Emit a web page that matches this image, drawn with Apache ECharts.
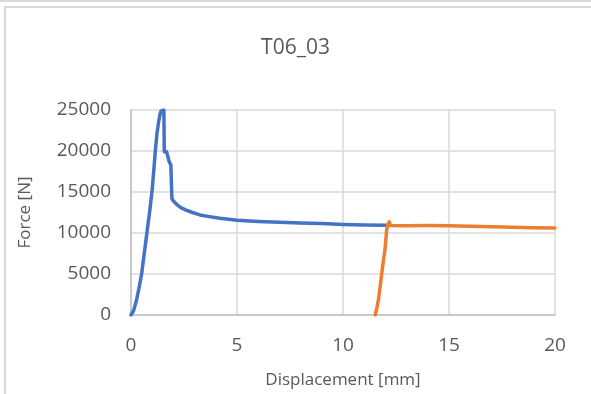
<!DOCTYPE html>
<html>
<head>
<meta charset="utf-8">
<script src="https://cdn.jsdelivr.net/npm/echarts@6/dist/echarts.min.js"></script>
<style>
  html, body { margin: 0; padding: 0; background: #ffffff; }
  #chart { width: 591px; height: 394px; }
</style>
</head>
<body>
<div id="chart"></div>
<script>
// Test T06_03: force versus displacement, two loading runs
const run1Displacement = [0, 0.12, 0.25, 0.38, 0.5, 0.62, 0.75, 0.88, 1.0, 1.08, 1.15, 1.22, 1.3, 1.37, 1.42, 1.48, 1.55, 1.57, 1.62, 1.68, 1.74, 1.8, 1.88, 1.92, 1.93, 2.0, 2.15, 2.35, 2.6, 2.9, 3.25, 3.7, 4.2, 5.0, 6.0, 7.0, 8.0, 9.0, 10.0, 11.0, 12.0, 12.1];
const run1Force = [0, 500, 1700, 3300, 5000, 7400, 10000, 12600, 15300, 17800, 20100, 22000, 23500, 24500, 24900, 25100, 25000, 19900, 20100, 19900, 19300, 18700, 18300, 18100, 14200, 13900, 13500, 13100, 12800, 12500, 12200, 12000, 11800, 11550, 11400, 11300, 11220, 11150, 11050, 10980, 10950, 10950];

const run2Displacement = [11.52, 11.6, 11.67, 11.75, 11.83, 11.9, 11.98, 12.06, 12.12, 12.18, 12.24, 12.3, 13.0, 14.0, 15.0, 16.0, 17.0, 18.0, 19.0, 20.0];
const run2Force = [0, 900, 1850, 3400, 5100, 6500, 7950, 10400, 11000, 11350, 10900, 10850, 10880, 10900, 10870, 10820, 10760, 10700, 10650, 10620];

const xTicks = [0, 5, 10, 15, 20];
const yTicks = [0, 5000, 10000, 15000, 20000, 25000];

const pairs = (xs, ys) => xs.map((x, i) => [x, ys[i]]);

const chart = echarts.init(document.getElementById('chart'), null, { renderer: 'canvas' });
const textColor = '#595959';
const fontFamily = '"Open Sans", "Liberation Sans", sans-serif';

chart.setOption({
  animation: false,
  backgroundColor: '#ffffff',
  title: {
    text: 'T06_03',
    left: 'center',
    top: 33,
    textStyle: { color: textColor, fontSize: 21, fontWeight: 'normal', fontFamily: fontFamily }
  },
  graphic: [
    { type: 'line', shape: { x1: 0, y1: 1, x2: 591, y2: 1 }, style: { stroke: '#d9d9d9', lineWidth: 2 } },
    { type: 'polyline', shape: { points: [[5, 394], [5, 7], [591, 7]] }, style: { stroke: '#d9d9d9', lineWidth: 2, fill: null } }
  ],
  grid: { left: 131, right: 36, top: 110, bottom: 79, containLabel: false },
  xAxis: {
    type: 'value',
    min: xTicks[0],
    max: xTicks[xTicks.length - 1],
    interval: 5,
    name: 'Displacement [mm]',
    nameLocation: 'middle',
    nameGap: 57,
    nameTextStyle: { color: textColor, fontSize: 17, fontFamily: fontFamily },
    axisLine: { show: true, lineStyle: { color: '#bfbfbf', width: 1.5 } },
    axisTick: { show: false },
    axisLabel: { color: textColor, fontSize: 19, fontFamily: fontFamily, margin: 21 },
    splitLine: { show: true, lineStyle: { color: '#d9d9d9', width: 1.5 } }
  },
  yAxis: {
    type: 'value',
    min: yTicks[0],
    max: yTicks[yTicks.length - 1],
    interval: 5000,
    name: 'Force [N]',
    nameLocation: 'middle',
    nameGap: 97,
    nameRotate: 90,
    nameTextStyle: { color: textColor, fontSize: 17, fontFamily: fontFamily },
    axisLine: { show: true, lineStyle: { color: '#bfbfbf', width: 1.5 } },
    axisTick: { show: false },
    axisLabel: { color: textColor, fontSize: 19, fontFamily: fontFamily, margin: 20, formatter: (v) => String(v) },
    splitLine: { show: true, lineStyle: { color: '#d9d9d9', width: 1.5 } }
  },
  series: [
    {
      name: 'Run 1',
      type: 'line',
      data: pairs(run1Displacement, run1Force),
      showSymbol: false,
      smooth: false,
      lineStyle: { color: '#4472c4', width: 3.5, cap: 'round', join: 'round' },
      itemStyle: { color: '#4472c4' },
      z: 3
    },
    {
      name: 'Run 2',
      type: 'line',
      data: pairs(run2Displacement, run2Force),
      showSymbol: false,
      smooth: false,
      lineStyle: { color: '#ed7d31', width: 3.5, cap: 'round', join: 'round' },
      itemStyle: { color: '#ed7d31' },
      z: 4
    }
  ]
});
</script>
</body>
</html>
